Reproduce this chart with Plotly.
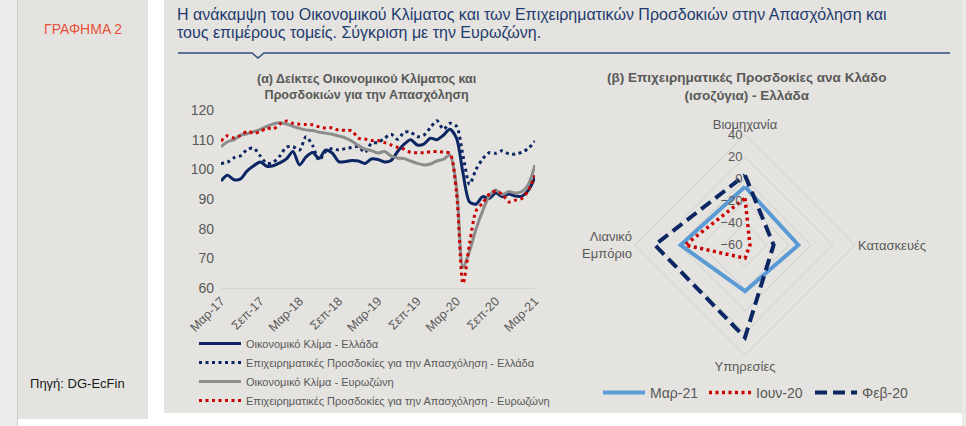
import plotly.graph_objects as go

W, H = 966, 426


def fx(x):
    return x / W


def fy(y):
    return 1 - y / H


# ---------------- data: left chart (monthly, Mar-17 .. Mar-21) ----------------
greek_months = ["Ιαν", "Φεβ", "Μαρ", "Απρ", "Μαϊ", "Ιουν", "Ιουλ", "Αυγ", "Σεπ", "Οκτ", "Νοε", "Δεκ"]
months = [f"{greek_months[(2 + i) % 12]}-{17 + (2 + i) // 12}" for i in range(49)]
x_ticks = ["Μαρ-17", "Σεπ-17", "Μαρ-18", "Σεπ-18", "Μαρ-19", "Σεπ-19", "Μαρ-20", "Σεπ-20", "Μαρ-21"]

esi_gr = [96.1, 98.0, 96.5, 96.8, 99.5, 101.2, 102.5, 101.0, 101.2, 102.2,
          103.5, 106.0, 101.5, 104.2, 105.7, 103.7, 106.5, 105.5, 102.6, 102.6,
          103.0, 102.8, 102.0, 103.5, 103.3, 102.5, 103.0, 106.0, 108.5, 110.0,
          108.2, 108.5, 110.5, 110.0, 111.5, 113.5, 110.5, 98.6, 89.0, 88.3,
          90.8, 90.2, 92.0, 90.8, 91.7, 91.0, 91.0, 93.0, 97.3]

eei_gr = [102.0, 102.4, 103.9, 104.6, 106.7, 107.1, 104.5, 102.0, 102.4, 104.5,
          107.5, 107.6, 106.5, 111.0, 108.0, 103.1, 106.0, 107.0, 106.5, 107.0,
          107.4, 107.6, 105.7, 108.8, 109.0, 110.5, 111.8, 110.1, 112.5, 112.5,
          111.0, 111.5, 114.0, 116.4, 113.5, 115.5, 114.5, 104.5, 95.0, 100.0,
          103.5, 105.6, 105.4, 106.3, 105.2, 105.2, 105.8, 107.1, 109.5]

esi_ea = [107.6, 109.3, 110.0, 111.5, 112.0, 112.7, 113.5, 114.5, 115.3, 115.7,
          115.3, 114.5, 113.8, 113.3, 113.1, 112.5, 112.2, 111.8, 111.2, 110.6,
          109.5, 108.0, 106.8, 106.3, 105.5, 106.0, 104.5, 103.8, 103.6, 102.8,
          102.0, 101.5, 101.8, 102.8, 103.4, 104.8, 94.0, 67.0, 72.5, 80.0,
          86.0, 91.0, 93.0, 91.5, 92.5, 92.0, 92.5, 95.0, 101.5]

eei_ea = [109.5, 111.3, 110.6, 111.4, 112.8, 112.2, 112.7, 113.9, 113.6, 115.3,
          116.3, 115.5, 115.2, 115.1, 115.0, 114.3, 113.9, 114.0, 113.2, 113.2,
          113.0, 110.5, 110.2, 109.7, 109.7, 109.0, 108.2, 107.4, 106.8, 105.7,
          105.6, 105.6, 105.9, 106.0, 105.8, 105.3, 92.0, 61.5, 75.0, 86.0,
          88.6, 91.6, 92.6, 91.6, 89.0, 89.6, 90.2, 93.0, 98.0]

left_names = ["Οικονομικό Κλίμα - Ελλάδα",
              "Επιχειρηματικές Προσδοκίες για την Απασχόληση - Ελλάδα",
              "Οικονομικό Κλίμα - Ευρωζώνη",
              "Επιχειρηματικές Προσδοκίες για την Απασχόληση - Ευρωζώνη"]

# ---------------- data: radar chart ----------------
sectors = ["Βιομηχανία", "Κατασκευές", "Υπηρεσίες", "Λιανικό<br>Εμπόριο"]
mar21 = [-7, -11.5, -18, -1.5]
jun20 = [-17.5, -55.5, -48, -5.5]
feb20 = [3.5, -34, 24, 22]
radar_names = ["Μαρ-21", "Ιουν-20", "Φεβ-20"]

NAVY = "#0b2663"
GRAY = "#8c8c8c"
RED = "#c80000"
LBLUE = "#5b9bd5"
TXT = "#595959"
PANEL = "#e4e3df"

fig = go.Figure()

styles = [
    (esi_gr, NAVY, "solid", 3),
    (eei_gr, NAVY, "3px,3.5px", 3),
    (esi_ea, GRAY, "solid", 3),
    (eei_ea, RED, "3px,3.5px", 3),
]
for i, (vals, col, dash, w) in enumerate(styles):
    fig.add_trace(go.Scatter(
        x=months, y=vals, mode="lines", name=left_names[i],
        line=dict(color=col, width=w, dash=dash, shape="spline", smoothing=0.8),
        legend="legend", legendgroup=f"g{i}", hoverinfo="skip",
    ))

rstyles = [
    (mar21, LBLUE, "solid", 4),
    (jun20, RED, "3px,3.5px", 3.5),
    (feb20, NAVY, "12px,6px", 4),
]
for i, (vals, col, dash, w) in enumerate(rstyles):
    fig.add_trace(go.Scatterpolar(
        r=vals + vals[:1], theta=sectors + sectors[:1], mode="lines",
        name=radar_names[i], line=dict(color=col, width=w, dash=dash),
        legend="legend2", subplot="polar", hoverinfo="skip",
    ))

# ---------------- background panels ----------------
shapes = [
    dict(type="rect", xref="paper", yref="paper", x0=fx(0), x1=fx(17), y0=fy(426), y1=fy(0),
         fillcolor="#ebebea", line_width=0, layer="below"),
    dict(type="line", xref="paper", yref="paper", x0=fx(17.5), x1=fx(17.5), y0=fy(426), y1=fy(0),
         line=dict(color="#cfcfcf", width=1), layer="below"),
    dict(type="rect", xref="paper", yref="paper", x0=fx(18), x1=fx(148), y0=fy(419), y1=fy(0),
         fillcolor=PANEL, line_width=0, layer="below"),
    dict(type="rect", xref="paper", yref="paper", x0=fx(164), x1=fx(962), y0=fy(413), y1=fy(0),
         fillcolor=PANEL, line_width=0, layer="below"),
    dict(type="rect", xref="paper", yref="paper", x0=fx(962), x1=fx(966), y0=fy(426), y1=fy(0),
         fillcolor="#ebebea", line_width=0, layer="below"),
    dict(type="path", xref="paper", yref="paper",
         path=f"M {fx(178)},{fy(53)} L {fx(252)},{fy(53)} L {fx(258)},{fy(58)} L {fx(264)},{fy(53)} L {fx(950)},{fy(53)}",
         line=dict(color="#2f4d7e", width=1.5), layer="below"),
]

annotations = [
    dict(text="ΓΡΑΦΗΜΑ 2", x=fx(83), y=fy(29), xref="paper", yref="paper", showarrow=False,
         xanchor="center", yanchor="middle", font=dict(family="Liberation Sans", size=14, color="#e8503a")),
    dict(text="Πηγή: DG-EcFin", x=fx(77), y=fy(383), xref="paper", yref="paper", showarrow=False,
         xanchor="center", yanchor="middle", font=dict(family="Liberation Sans", size=13, color="#1a1a1a")),
    dict(text="Η ανάκαμψη του Οικονομικού Κλίματος και των Επιχειρηματικών Προσδοκιών στην Απασχόληση και",
         x=fx(175), y=fy(15), xref="paper", yref="paper", showarrow=False, xanchor="left", yanchor="middle",
         font=dict(family="Liberation Sans", size=16, color="#1f3b6f")),
    dict(text="τους επιμέρους τομείς. Σύγκριση με την Ευρωζώνη.",
         x=fx(175), y=fy(33), xref="paper", yref="paper", showarrow=False, xanchor="left", yanchor="middle",
         font=dict(family="Liberation Sans", size=16, color="#1f3b6f")),
    dict(text="<b>(α) Δείκτες Οικονομικού Κλίματος και<br>Προσδοκιών για την Απασχόληση</b>",
         x=fx(367), y=fy(86.5), xref="paper", yref="paper", align="center",
         showarrow=False, xanchor="center", yanchor="middle", font=dict(family="Liberation Sans", size=12.5, color=TXT)),
    dict(text="<b>(β) Επιχειρηματικές Προσδοκίες ανα Κλάδο<br>(ισοζύγια) - Ελλάδα</b>",
         x=fx(746), y=fy(86.5), xref="paper", yref="paper", align="center",
         showarrow=False, xanchor="center", yanchor="middle", font=dict(family="Liberation Sans", size=13.5, color=TXT)),
]

fig.update_layout(
    width=W, height=H, margin=dict(l=0, r=0, t=0, b=0, autoexpand=False),
    paper_bgcolor="white", plot_bgcolor="rgba(0,0,0,0)",
    font=dict(family="Liberation Sans", color=TXT),
    shapes=shapes, annotations=annotations,
    xaxis=dict(domain=[fx(221), fx(535)], type="category", categoryorder="array", categoryarray=months,
               range=[0, 48], tickvals=x_ticks, tickangle=-45, showgrid=False, zeroline=False,
               showline=True, linecolor="#d4d4d4", linewidth=1, ticks="", automargin=False,
               tickfont=dict(family="Liberation Sans", size=12.5, color=TXT), fixedrange=True),
    yaxis=dict(domain=[fy(288), fy(110)], range=[60, 120], dtick=10, showgrid=False, zeroline=False,
               showline=False, ticks="", ticklabelstandoff=6, automargin=False,
               tickfont=dict(family="Liberation Sans Narrow, Liberation Sans", size=14, color=TXT), fixedrange=True),
    polar=dict(
        domain=dict(x=[fx(635), fx(855)], y=[fy(355), fy(135)]),
        bgcolor="rgba(0,0,0,0)", gridshape="linear",
        radialaxis=dict(range=[-60, 40], tickvals=[-60, -40, -20, 0, 20, 40], angle=90, tickangle=90,
                        showline=False, ticks="", gridcolor="#cfcfcf", gridwidth=1,
                        side="counterclockwise", ticksuffix="\u2007\u2007\u2007",
                        tickfont=dict(family="Liberation Sans", size=13, color=TXT)),
        angularaxis=dict(direction="clockwise", rotation=90, type="category", categoryarray=sectors,
                         showgrid=False, showline=True, linecolor="#cfcfcf", linewidth=1, ticks="",
                         tickfont=dict(family="Liberation Sans", size=13, color=TXT)),
    ),
    legend=dict(x=fx(194), y=fy(329), xanchor="left", yanchor="top", orientation="v",
                bgcolor="rgba(0,0,0,0)", font=dict(family="Liberation Sans", size=11, color=TXT),
                tracegroupgap=6, itemwidth=42, traceorder="normal"),
    legend2=dict(x=fx(598), y=fy(393), xanchor="left", yanchor="middle", orientation="h",
                 bgcolor="rgba(0,0,0,0)", font=dict(family="Liberation Sans", size=14, color=TXT),
                 itemwidth=42, entrywidth=49, entrywidthmode="pixels"),
    showlegend=True,
)

fig.write_html("out.html")
